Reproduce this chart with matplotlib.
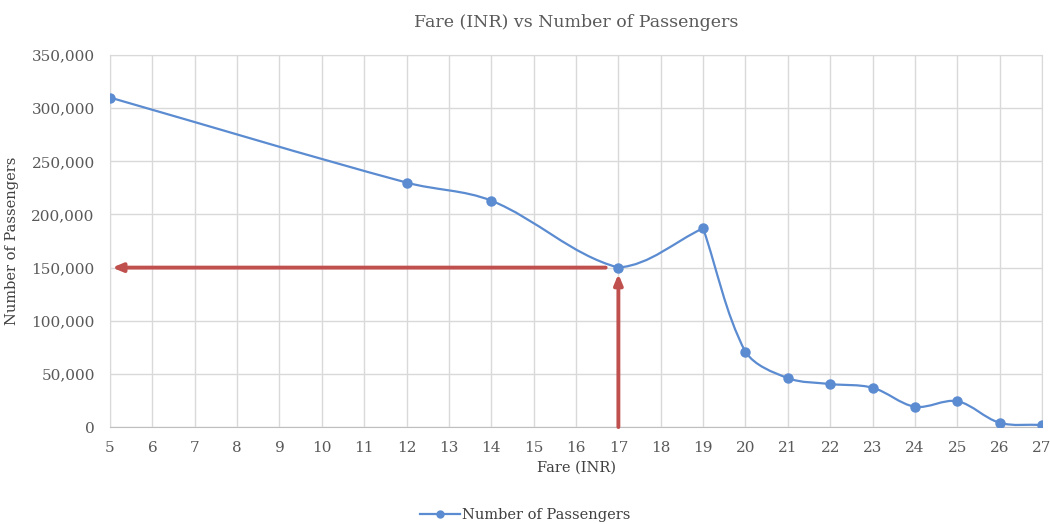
#!/usr/bin/env python3
"""
Fare vs passenger count, drawn as a smoothed line with marker points.
"""
import matplotlib.pyplot as plt
import numpy as np
from matplotlib.lines import Line2D
from matplotlib.patches import PathPatch
from matplotlib.path import Path
from matplotlib.ticker import FuncFormatter

fares = [5, 12, 14, 17, 19, 20, 21, 22, 23, 24, 25, 26, 27]
passengers = [310000, 230000, 213000, 150000, 187000, 70500, 46000,
              40500, 37000, 19000, 24500, 4000, 2000]
series_name = "Number of Passengers"

# fare chosen for the demand read-off
target_fare = 17
target_passengers = 150000

LINE = "#5B8BD0"
ARROW = "#C0504D"
TEXT = "#595959"
LABEL = "#404040"
GRID = "#D9D9D9"
FONT = ["DejaVu Serif"]


def unit(v):
    n = np.hypot(*v)
    return v / n if n > 0 else v


def smooth_path(ax, x, y, k=0.35):
    """Bezier path through the points, smoothing tuned in screen space.

    Tangents follow the neighbour chord, but sharp turns fall back to the
    segment chords so peaks stay pointed instead of overshooting.
    """
    pts = ax.transData.transform(np.column_stack([x, y]))
    n = len(pts)
    c_in = [None] * n
    c_out = [None] * n
    for i in range(n):
        prev_p = pts[i - 1] if i > 0 else pts[i]
        next_p = pts[i + 1] if i + 1 < n else pts[i]
        d_in = np.hypot(*(pts[i] - prev_p))
        d_out = np.hypot(*(next_p - pts[i]))
        u = unit(next_p - prev_p)
        ch_in = unit(pts[i] - prev_p) if i > 0 else u
        ch_out = unit(next_p - pts[i]) if i + 1 < n else u
        w = max(float(np.dot(ch_in, ch_out)), 0.0)
        t_in = unit(ch_in * (1 - w) + u * w)
        t_out = unit(ch_out * (1 - w) + u * w)
        c_in[i] = pts[i] - t_in * d_in * k
        c_out[i] = pts[i] + t_out * d_out * k
    verts = [pts[0]]
    codes = [Path.MOVETO]
    for i in range(n - 1):
        verts += [c_out[i], c_in[i + 1], pts[i + 1]]
        codes += [Path.CURVE4] * 3
    data = ax.transData.inverted().transform(np.array(verts))
    return Path(data, codes)


def main() -> None:
    plt.rcParams["font.family"] = FONT
    fig = plt.figure(figsize=(10.5, 5.24), dpi=100)
    ax = fig.add_axes([0.1048, 0.185, 0.8876, 0.71])

    ax.set_xlim(5, 27)
    ax.set_ylim(0, 350000)

    ax.add_patch(PathPatch(smooth_path(ax, fares, passengers), facecolor="none",
                           edgecolor=LINE, lw=1.6, zorder=3))
    ax.plot(fares, passengers, linestyle="none", marker="o", ms=6.5,
            color=LINE, zorder=4)

    head = "-|>,head_length=0.6,head_width=0.25"
    ax.annotate("", xy=(5.05, target_passengers),
                xytext=(target_fare - 0.3, target_passengers),
                arrowprops=dict(arrowstyle=head, color=ARROW, lw=2.8,
                                shrinkA=0, shrinkB=0),
                zorder=5)
    ax.annotate("", xy=(target_fare, target_passengers - 6000),
                xytext=(target_fare, 0),
                arrowprops=dict(arrowstyle=head, color=ARROW, lw=2.8,
                                shrinkA=0, shrinkB=0),
                zorder=5)

    ax.set_xticks(range(5, 28))
    ax.set_yticks(range(0, 350001, 50000))
    ax.yaxis.set_major_formatter(FuncFormatter(lambda v, _: f"{int(v):,}"))
    ax.grid(True, color=GRID, lw=1)
    ax.set_axisbelow(True)
    for side in ax.spines.values():
        side.set_color(GRID)
    ax.spines["bottom"].set_color("#BFBFBF")
    ax.tick_params(length=0, colors=TEXT, labelsize=11)
    ax.tick_params(axis="x", pad=10)
    ax.tick_params(axis="y", pad=11)

    ax.set_xlabel("Fare (INR)", color=LABEL, fontsize=10.5, labelpad=4)
    ax.set_ylabel(series_name, color=LABEL, fontsize=10.5, labelpad=9)
    ax.set_title("Fare (INR) vs Number of Passengers", color=TEXT,
                 fontsize=12.5, pad=20)

    handle = Line2D([], [], color=LINE, lw=1.6, marker="o", ms=5)
    fig.legend(handles=[handle], labels=[series_name], loc="lower center",
               bbox_to_anchor=(0.5, -0.022), frameon=False, fontsize=10.5,
               labelcolor=LABEL, handlelength=2.8, handletextpad=0.1)

    fig.savefig("out.png", dpi=100)
    plt.close(fig)


if __name__ == "__main__":
    main()
